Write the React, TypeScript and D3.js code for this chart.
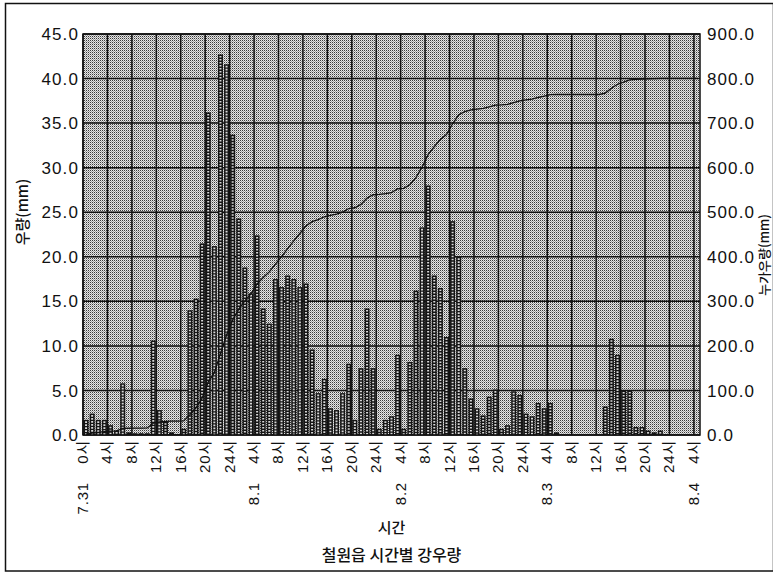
import React from 'react';
import * as d3 from 'd3';

// hourly rainfall (mm), 7.31 0시 .. 8.4 4시
const rainfall = [
  1.7, 2.4, 1.7, 1.7, 1.1, 0.5, 5.8, 0.3, 0.2, 0.2, 0.2, 10.6, 2.8, 1.5, 0.3, 0.1,
  0.7, 14.0, 15.3, 21.5, 36.2, 21.2, 42.7, 41.6, 33.7, 24.3, 18.8, 15.9, 22.4, 14.2, 12.5, 17.5,
  16.6, 17.9, 17.5, 16.6, 17.0, 9.6, 4.7, 6.3, 3.0, 2.8, 4.7, 8.0, 1.7, 7.5, 14.2, 7.5,
  0.7, 1.7, 2.1, 9.0, 0.7, 8.2, 16.2, 23.3, 28.0, 17.9, 16.5, 11.0, 24.0, 20.0, 7.5, 4.1,
  3.0, 2.2, 4.3, 5.1, 0.7, 1.1, 4.9, 4.5, 2.4, 2.1, 3.6, 3.0, 3.6, 0.3, 0, 0,
  0, 0, 0, 0, 0, 3.2, 10.8, 9.0, 5.0, 5.0, 0.9, 0.9, 0.5, 0.3, 0.5, 0.1,
  0, 0, 0, 0, 0,
];

// cumulative rainfall (mm)
const cumulative = [
  1.7, 4.1, 5.8, 7.5, 8.6, 9.1, 14.9, 15.2, 15.4, 15.6, 15.8, 26.4, 29.2, 30.7, 31.0, 31.1,
  31.8, 45.8, 61.1, 82.6, 118.8, 140.0, 182.7, 224.3, 258.0, 282.3, 301.1, 317.0, 339.4, 353.6, 366.1, 383.6,
  400.2, 418.1, 435.6, 452.2, 469.2, 478.8, 483.5, 489.8, 492.8, 495.6, 500.3, 508.3, 510.0, 517.5, 531.7, 539.2,
  539.9, 541.6, 543.7, 552.7, 553.4, 561.6, 577.8, 601.1, 629.1, 647.0, 663.5, 674.5, 698.5, 718.5, 726.0, 729.5,
  731.5, 733.0, 736.5, 740.5, 741.0, 742.0, 746.0, 750.0, 752.0, 754.0, 757.5, 760.5, 764.0, 764.2, 764.2, 764.2,
  764.2, 764.2, 764.2, 764.2, 764.2, 767.4, 778.2, 787.2, 792.2, 797.2, 798.1, 799.0, 799.5, 799.8, 800.3, 800.4,
  800.4, 800.4, 800.4, 800.4, 800.4,
];

const timeLabels = [
  '0시', '4시', '8시', '12시', '16시', '20시', '24시',
  '4시', '8시', '12시', '16시', '20시', '24시',
  '4시', '8시', '12시', '16시', '20시', '24시',
  '4시', '8시', '12시', '16시', '20시', '24시',
  '4시',
];
const dateLabels = [
  '7.31', '', '', '', '', '', '',
  '8.1', '', '', '', '', '',
  '8.2', '', '', '', '', '',
  '8.3', '', '', '', '', '',
  '8.4',
];

const leftTicks = d3.range(0, 46, 5);
const rightTicks = d3.range(0, 901, 100);

const latin = "'Liberation Sans', Arial, 'Noto Sans CJK KR', sans-serif";
const hangul = "'Noto Sans CJK KR', 'Liberation Sans', sans-serif";

export default function App() {
  const width = 773;
  const height = 574;
  const left = 83;
  const right = 700;
  const top = 34;
  const bottom = 435;

  const x = d3
    .scaleBand<number>()
    .domain(d3.range(rainfall.length))
    .range([left, right])
    .paddingInner(0.18)
    .paddingOuter(0.09);
  const step = x.step();
  const edge = (i: number) => left + i * step;

  const y = d3.scaleLinear().domain([0, 45]).range([bottom, top]);
  const y2 = d3.scaleLinear().domain([0, 900]).range([bottom, top]);

  const line = d3
    .line<number>()
    .x((d, i) => (x(i) as number) + x.bandwidth() / 2)
    .y((d) => y2(d));

  return (
    <svg
      width={width}
      height={height}
      style={{ position: 'absolute', left: 0, top: 0, display: 'block', background: '#fff' }}
    >
      <defs>
        <pattern id="stipple" width={2} height={2} patternUnits="userSpaceOnUse">
          <rect width={2} height={2} fill="#e6e6e6" />
          <rect x={0} y={0} width={1} height={1} fill="#3a3a3a" />
          <rect x={1} y={1} width={1} height={1} fill="#a0a0a0" />
        </pattern>
      </defs>

      {/* outer frame */}
      <rect x={5.5} y={3.5} width={768} height={567.5} fill="none" stroke="#111" strokeWidth={1.5} />

      {/* plot area */}
      <rect x={left} y={top} width={right - left} height={bottom - top} fill="url(#stipple)" />

      {/* horizontal grid */}
      {leftTicks.map((t) => (
        <line key={'h' + t} x1={left} x2={right} y1={y(t)} y2={y(t)} stroke="#111" strokeWidth={1.5} />
      ))}
      {/* vertical grid every 4 hours */}
      {timeLabels.map((t, k) => (
        <line key={'v' + k} x1={edge(4 * k)} x2={edge(4 * k)} y1={top} y2={bottom} stroke="#111" strokeWidth={1.5} />
      ))}

      {/* bars */}
      {rainfall.map((v, i) =>
        v > 0 ? (
          <g key={'b' + i}>
            <rect
              x={x(i)}
              y={y(v)}
              width={x.bandwidth()}
              height={bottom - y(v)}
              fill="#141414"
            />
            {bottom - y(v) > 3 && (
              <line
                x1={(x(i) as number) + x.bandwidth() / 2}
                x2={(x(i) as number) + x.bandwidth() / 2}
                y1={y(v) + 1.5}
                y2={bottom}
                stroke="#d8d8d8"
                strokeWidth={2}
                strokeDasharray="1.6 1.4"
              />
            )}
          </g>
        ) : null
      )}

      {/* cumulative line */}
      <path d={line(cumulative) || ''} fill="none" stroke="#111" strokeWidth={1.3} />

      {/* plot border */}
      <rect x={left} y={top} width={right - left} height={bottom - top} fill="none" stroke="#111" strokeWidth={1.5} />

      {/* left axis labels */}
      {leftTicks.map((t) => (
        <text
          key={'l' + t}
          x={79}
          y={y(t)}
          dy="0.36em"
          textAnchor="end"
          fontFamily={latin}
          fontSize={17}
          letterSpacing={1.1}
          fill="#111"
        >
          {t.toFixed(1)}
        </text>
      ))}
      {/* right axis labels */}
      {rightTicks.map((t) => (
        <text
          key={'r' + t}
          x={707}
          y={y2(t)}
          dy="0.36em"
          textAnchor="start"
          fontFamily={latin}
          fontSize={17}
          letterSpacing={1.1}
          fill="#111"
        >
          {t.toFixed(1)}
        </text>
      ))}

      {/* x axis labels */}
      {timeLabels.map((t, k) => (
        <g key={'x' + k} transform={`translate(${edge(4 * k) + 5},0) rotate(-90)`}>
          <text x={-440} y={0} textAnchor="end" fontFamily={latin} fontSize={15} letterSpacing={0.8} fill="#111">
            {t}
          </text>
          {dateLabels[k] && (
            <text x={-482} y={0} textAnchor="end" fontFamily={latin} fontSize={15} letterSpacing={0.8} fill="#111">
              {dateLabels[k]}
            </text>
          )}
        </g>
      ))}

      {/* axis titles */}
      <text
        transform="translate(28,212) rotate(-90)"
        textAnchor="middle"
        fontFamily={hangul}
        fontSize={15}
        fontWeight={500}
        fill="#111"
      >
        우량(mm)
      </text>
      <text
        transform="translate(769,255) rotate(-90)"
        textAnchor="middle"
        fontFamily={hangul}
        fontSize={13}
        fontWeight={500}
        fill="#111"
      >
        누가우량(mm)
      </text>
      <text
        x={(left + right) / 2}
        y={533}
        textAnchor="middle"
        fontFamily={hangul}
        fontSize={15}
        fontWeight={500}
        fill="#111"
      >
        시간
      </text>
      <text
        x={(left + right) / 2}
        y={561}
        textAnchor="middle"
        fontFamily={hangul}
        fontSize={16}
        fontWeight={500}
        fill="#111"
      >
        철원읍 시간별 강우량
      </text>
    </svg>
  );
}
